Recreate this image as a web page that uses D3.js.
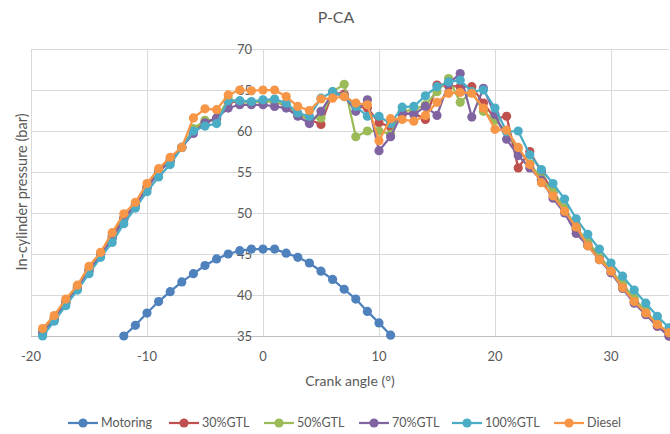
<!DOCTYPE html>
<html><head><meta charset="utf-8">
<script src="https://cdn.jsdelivr.net/npm/d3@7"></script>
<style>body{margin:0;background:#fff}svg{display:block}</style>
</head><body>
<svg id="c" width="670" height="434"></svg>
<script>
const title = "P-CA";
const xTicks = [-20, -10, 0, 10, 20, 30];
const yTicks = [35, 40, 45, 50, 55, 60, 65, 70];
const motoringAngles = d3.range(-12, 12);
const motoring = [35.0,36.3,37.8,39.2,40.4,41.6,42.6,43.6,44.4,45.0,45.4,45.6,45.6,45.6,45.1,44.6,43.9,42.9,41.9,40.7,39.5,38.0,36.6,35.1];
const angles = d3.range(-19, 36);
const gtl30 = [35.5,37.2,39.2,41.0,43.1,45.0,47.2,49.4,51.0,53.2,55.1,56.5,58.0,60.0,61.0,61.5,63.5,63.6,63.5,63.6,63.6,63.1,62.0,61.4,60.8,64.7,64.5,63.0,62.8,61.0,60.5,62.0,62.2,61.4,65.6,65.5,65.4,65.4,63.4,61.5,61.8,55.5,57.5,55.0,52.5,50.6,48.0,46.2,44.5,42.8,41.0,39.2,37.7,36.2,35.0];
const gtl50 = [35.4,37.1,39.1,40.9,43.0,45.0,47.0,49.2,51.0,53.1,55.0,56.4,58.0,60.3,61.3,61.4,63.9,63.5,63.5,63.6,63.6,63.2,62.0,61.5,61.6,64.8,65.7,59.3,60.0,60.0,59.6,62.4,62.6,63.2,64.8,66.4,63.5,64.8,62.4,61.3,60.0,57.8,56.0,54.2,52.6,50.6,48.2,46.5,44.8,43.0,41.3,39.6,38.0,36.5,35.3];
const gtl70 = [35.3,37.0,39.0,40.8,42.9,44.9,46.9,49.2,51.0,53.0,55.0,56.3,58.0,59.7,61.0,61.6,62.8,63.2,63.2,63.2,63.0,62.8,61.8,60.9,62.4,64.6,64.3,62.4,63.8,57.6,59.3,62.2,62.0,63.0,61.9,65.8,67.0,61.7,65.2,62.0,59.0,57.0,55.5,54.0,51.8,50.0,47.5,46.0,44.3,42.7,40.8,39.0,37.6,36.2,35.0];
const gtl100 = [35.0,36.8,38.7,40.6,42.6,44.6,46.4,48.7,50.6,52.6,54.4,55.9,58.0,60.0,60.6,60.9,63.7,63.7,63.6,63.8,63.9,63.4,62.2,61.8,64.0,64.8,64.2,63.0,61.8,61.8,60.9,62.9,63.0,64.3,65.4,66.0,66.2,64.8,65.0,62.8,59.9,60.0,57.1,55.3,53.6,51.7,49.3,47.4,45.6,43.9,42.3,40.6,39.0,37.4,36.0];
const diesel = [35.9,37.5,39.5,41.2,43.5,45.2,47.6,49.9,51.3,53.6,55.4,56.8,58.0,61.6,62.7,62.6,64.4,65.0,64.9,65.0,65.0,64.2,63.0,62.5,63.9,64.0,64.2,63.4,63.2,58.8,61.5,61.4,61.2,61.9,63.5,64.6,64.7,64.6,62.8,60.2,60.1,58.0,55.9,53.7,52.1,50.2,48.3,46.0,44.3,42.9,40.9,39.2,37.8,36.4,35.4];
const seriesNames = ["Motoring","30%GTL","50%GTL","70%GTL","100%GTL","Diesel"];
const seriesColors = ["#4F81BD","#C0504D","#9BBB59","#8064A2","#4BACC6","#F79646"];

const series = [
  {name: seriesNames[0], color: seriesColors[0], xs: motoringAngles, ys: motoring},
  {name: seriesNames[1], color: seriesColors[1], xs: angles, ys: gtl30},
  {name: seriesNames[2], color: seriesColors[2], xs: angles, ys: gtl50},
  {name: seriesNames[3], color: seriesColors[3], xs: angles, ys: gtl70},
  {name: seriesNames[4], color: seriesColors[4], xs: angles, ys: gtl100},
  {name: seriesNames[5], color: seriesColors[5], xs: angles, ys: diesel}
];

const svg = d3.select("#c");
const font = "Lato, 'Open Sans', sans-serif";
const txt = "#595959";
const x = d3.scaleLinear().domain([-20, 35]).range([31, 669]);
const y = d3.scaleLinear().domain([35, 70]).range([336, 49]);

// gridlines
svg.append("g").selectAll("line").data(yTicks).join("line")
  .attr("x1", x(-20)).attr("x2", x(35)).attr("y1", d => y(d)).attr("y2", d => y(d))
  .attr("stroke", d => d === 35 ? "#bfbfbf" : "#d9d9d9").attr("stroke-width", 1).attr("shape-rendering","crispEdges");
svg.append("g").selectAll("line").data(xTicks).join("line")
  .attr("x1", d => x(d)).attr("x2", d => x(d)).attr("y1", y(35)).attr("y2", y(70))
  .attr("stroke", "#d9d9d9").attr("stroke-width", 1).attr("shape-rendering","crispEdges");

// y tick labels (axis crossing at x=0)
svg.append("g").selectAll("text").data(yTicks).join("text")
  .attr("x", x(0) - 11).attr("y", d => y(d)).attr("dy", "0.35em")
  .attr("text-anchor", "end").attr("font-family", font).attr("font-size", 13).attr("fill", txt)
  .text(d => d);
// x tick labels
svg.append("g").selectAll("text").data(xTicks).join("text")
  .attr("x", d => x(d)).attr("y", 356).attr("dy", "0.35em")
  .attr("text-anchor", "middle").attr("font-family", font).attr("font-size", 13).attr("fill", txt)
  .text(d => d);

// titles
svg.append("text").attr("x", 336).attr("y", 17).attr("dy","0.35em").attr("text-anchor","middle")
  .attr("font-family", font).attr("font-size", 16).attr("fill", txt).text(title);
svg.append("text").attr("x", 350).attr("y", 381).attr("dy","0.35em").attr("text-anchor","middle")
  .attr("font-family", font).attr("font-size", 14).attr("fill", txt).text("Crank angle (°)");
svg.append("text").attr("transform", "translate(22,192) rotate(-90)").attr("dy","0.35em").attr("text-anchor","middle")
  .attr("font-family", font).attr("font-size", 14.5).attr("fill", txt).text("In-cylinder pressure (bar)");

// series
const line = d3.line().x(d => x(d[0])).y(d => y(d[1]));
series.forEach(s => {
  const pts = s.xs.map((a, i) => [a, s.ys[i]]);
  const g = svg.append("g");
  g.append("path").attr("d", line(pts)).attr("fill","none").attr("stroke", s.color).attr("stroke-width", 2.25).attr("stroke-linejoin","round");
  g.selectAll("circle").data(pts).join("circle")
    .attr("cx", d => x(d[0])).attr("cy", d => y(d[1])).attr("r", 4.6).attr("fill", s.color);
});

// legend
const legendX = [68, 169, 264, 359, 452, 554];
const leg = svg.append("g");
series.forEach((s, i) => {
  const lx = legendX[i];
  const g = leg.append("g");
  g.append("line").attr("x1", lx).attr("x2", lx + 30).attr("y1", 423).attr("y2", 423).attr("stroke", s.color).attr("stroke-width", 2.25);
  g.append("circle").attr("cx", lx + 15).attr("cy", 423).attr("r", 4.6).attr("fill", s.color);
  g.append("text").attr("x", lx + 33).attr("y", 423).attr("dy","0.35em")
    .attr("font-family", font).attr("font-size", 12.5).attr("fill", txt)
    .attr("textLength", null).text(s.name);
});
</script>
</body></html>
